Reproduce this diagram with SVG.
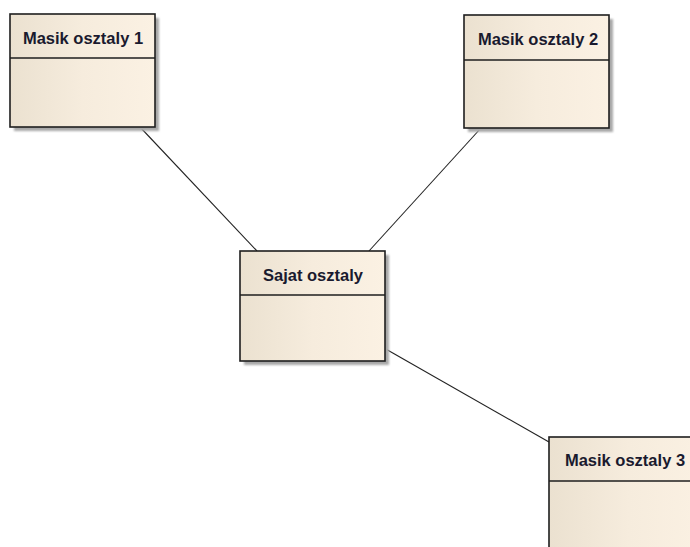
<svg xmlns="http://www.w3.org/2000/svg" width="690" height="547" viewBox="0 0 690 547">
<defs>
<linearGradient id="g" x1="0" y1="0" x2="1" y2="0">
<stop offset="0" stop-color="#EBE1D0"/>
<stop offset="0.5" stop-color="#F6ECDD"/>
<stop offset="1" stop-color="#FBF1E3"/>
</linearGradient>
<filter id="blur" x="-10%" y="-10%" width="120%" height="120%"><feGaussianBlur stdDeviation="0.8"/></filter>
</defs>
<style>
.shadow{fill:#a8a8a8;filter:url(#blur)}
.box{fill:url(#g);stroke:#1e1e1e;stroke-width:1.6}
.div{stroke:#1e1e1e;stroke-width:1.6}
.t{font-family:"Liberation Sans",Arial,sans-serif;font-weight:bold;font-size:16.5px;fill:#1a1a2e;text-anchor:middle}
.c{stroke:#222;stroke-width:1.1;fill:none}
</style>
<rect width="690" height="547" fill="#ffffff"/>
<g id="connectors">
<line class="c" x1="140" y1="127" x2="257" y2="251"/>
<line class="c" x1="481" y1="128" x2="369" y2="251"/>
<line class="c" x1="384" y1="348" x2="549" y2="442"/>
</g>
<g id="masik1">
<rect class="shadow" x="14" y="18" width="145" height="113"/>
<rect class="box" x="10" y="14" width="145" height="113"/>
<line class="div" x1="10" y1="58" x2="155" y2="58"/>
<text class="t" x="83" y="44">Masik osztaly 1</text>
</g>
<g id="masik2">
<rect class="shadow" x="468" y="19" width="145" height="113"/>
<rect class="box" x="464" y="15" width="145" height="113"/>
<line class="div" x1="464" y1="60" x2="609" y2="60"/>
<text class="t" x="538" y="45">Masik osztaly 2</text>
</g>
<g id="sajat">
<rect class="shadow" x="244" y="255" width="145" height="110"/>
<rect class="box" x="240" y="251" width="145" height="110"/>
<line class="div" x1="240" y1="295" x2="385" y2="295"/>
<text class="t" x="313" y="281">Sajat osztaly</text>
</g>
<g id="masik3">
<rect class="box" x="549" y="437" width="160" height="130"/>
<line class="div" x1="549" y1="481" x2="700" y2="481"/>
<text class="t" x="625" y="466">Masik osztaly 3</text>
</g>
</svg>
